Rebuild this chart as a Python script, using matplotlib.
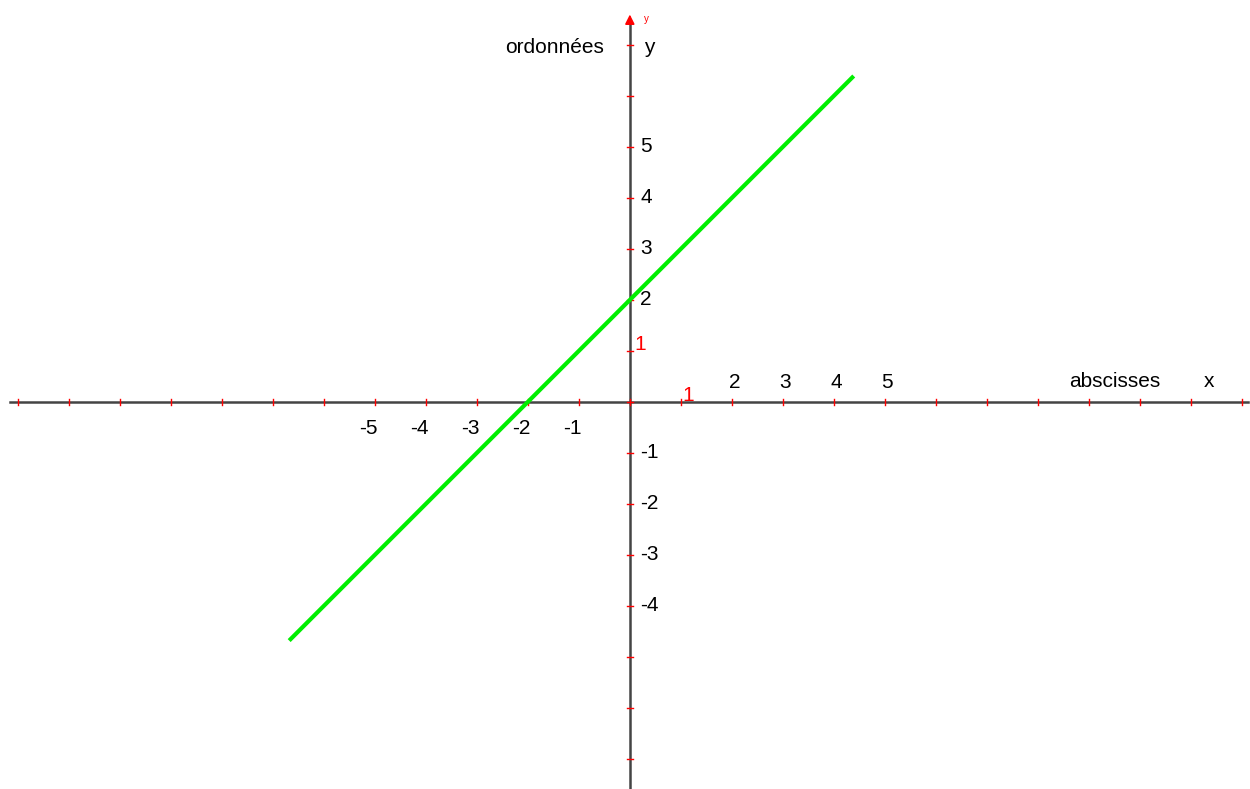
import matplotlib.pyplot as plt
import numpy as np

plt.rcParams['font.family'] = ['Liberation Sans', 'DejaVu Sans']

# droite y = x + 2
slope = 1
intercept = 2
x_start, x_end = -6.68, 4.39

x_ticks = list(range(-12, 13))
y_ticks = list(range(-7, 8))
x_labels_above = [2, 3, 4, 5]
x_labels_below = [-5, -4, -3, -2, -1]
y_labels = [5, 4, 3, 2, -1, -2, -3, -4]

fig = plt.figure(figsize=(12.5, 7.89), dpi=100)
ax = fig.add_axes([0, 0, 1, 1])
ax.set_xlim(-12.35, 12.16)
ax.set_ylim(-7.59, 7.88)
ax.axis('off')

axis_col = '#444444'
ax.plot([-12.16, 12.12], [0, 0], color=axis_col, lw=1.8, zorder=2)
ax.plot([0, 0], [-7.6, 7.45], color=axis_col, lw=1.8, zorder=2)
ax.annotate('', xy=(0, 7.65), xytext=(0, 7.4),
            arrowprops=dict(arrowstyle='-|>', color='red', lw=1.2,
                            mutation_scale=14), zorder=3)

# graduations
for t in x_ticks:
    ax.plot([t, t], [-0.06, 0.06], color='red', lw=1, zorder=3)
for t in y_ticks:
    ax.plot([-0.06, 0.06], [t, t], color='red', lw=1, zorder=3)

fs = 15
for v in x_labels_above:
    ax.text(v + 0.05, 0.2, str(v), ha='center', va='bottom', fontsize=fs)
for v in x_labels_below:
    ax.text(v - 0.12, -0.33, str(v), ha='center', va='top', fontsize=fs)
for v in y_labels:
    ax.text(0.2, v, str(v), ha='left', va='center', fontsize=fs)

ax.text(1.15, 0.12, '1', color='red', ha='center', va='center', fontsize=fs)
ax.text(0.08, 1.12, '1', color='red', ha='left', va='center', fontsize=fs)
ax.text(0.33, 7.5, 'y', color='red', ha='center', va='center', fontsize=7)

ax.text(9.5, 0.4, 'abscisses', ha='center', va='center', fontsize=fs)
ax.text(11.36, 0.4, 'x', ha='center', va='center', fontsize=fs)
ax.text(-0.5, 6.95, 'ordonnées', ha='right', va='center', fontsize=fs)
ax.text(0.38, 6.95, 'y', ha='center', va='center', fontsize=fs)

xs = np.array([x_start, x_end])
ax.plot(xs, slope * xs + intercept, color='#00ee00', lw=3,
        solid_capstyle='butt', zorder=4)

fig.savefig('out.png', dpi=100)
